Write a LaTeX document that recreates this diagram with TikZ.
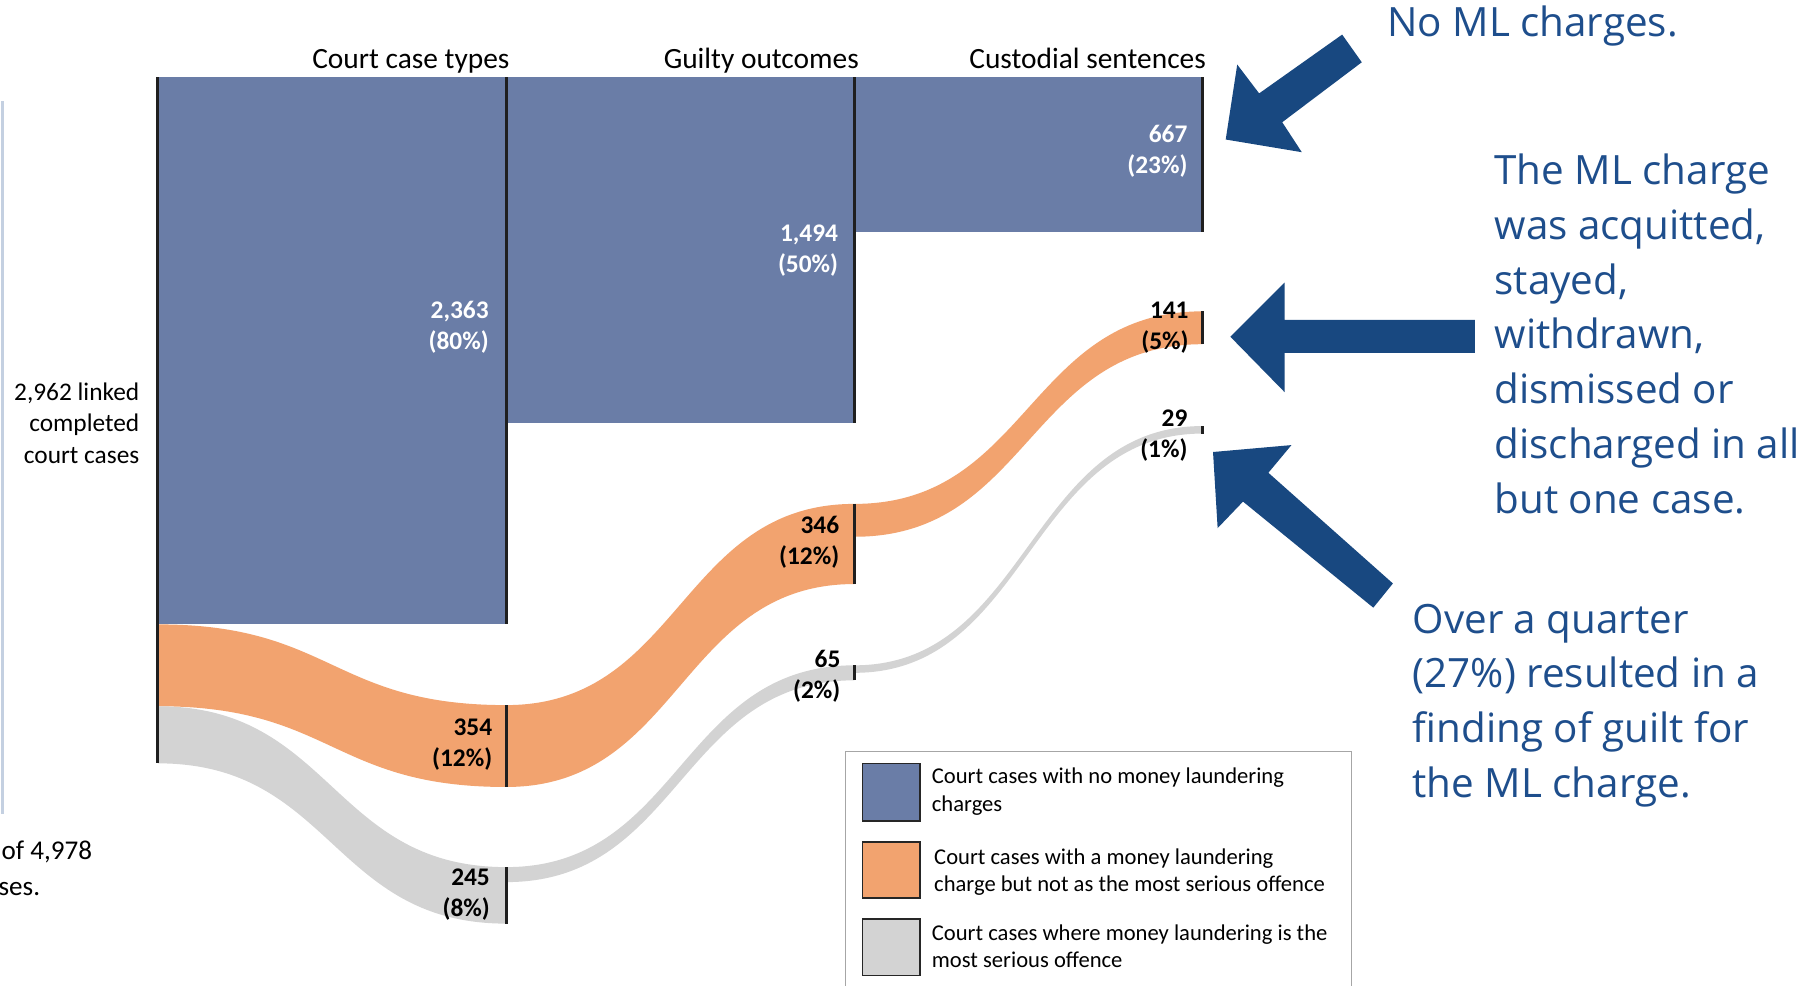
\documentclass[tikz,border=0pt]{standalone}
\usepackage{fontspec}
\setmainfont{Carlito}
\newfontfamily\annfont{Open Sans}
\definecolor{mlblue}{RGB}{106,125,167}
\definecolor{mlorange}{RGB}{242,163,111}
\definecolor{mlgray}{RGB}{211,211,211}
\definecolor{arrowblue}{RGB}{24,72,128}
\definecolor{annblue}{RGB}{30,78,140}
\definecolor{edgeblue}{RGB}{196,208,225}
\newcommand{\sflow}[8]{% x1 t1 b1 x2 t2 b2 xm colour
  \fill[#8] (#1,#2) .. controls (#7,#2) and (#7,#5) .. (#4,#5) -- (#4,#6)
    .. controls (#7,#6) and (#7,#3) .. (#1,#3) -- cycle;}
\begin{document}
\begin{tikzpicture}[x=1pt,y=-1pt,
  colline/.style={line width=2.6pt, draw=black!88},
  hdr/.style={font=\fontsize{25.5}{30}\selectfont, anchor=base east, inner sep=0},
  vlab/.style={font=\fontsize{22}{27}\selectfont\bfseries, align=right, anchor=east, inner sep=0},
  wlab/.style={vlab, text=white},
  sidetxt/.style={font=\fontsize{22}{27.5}\selectfont, inner sep=0},
  cuttxt/.style={font=\fontsize{23.5}{29}\selectfont, inner sep=0, anchor=base east},
  ann/.style={font=\annfont\fontsize{35}{47.5}\selectfont, text=annblue, anchor=base west, inner sep=0},
  leg/.style={font=\fontsize{19.6}{23.5}\selectfont, align=left, anchor=west, inner sep=0},
  swatch/.style={line width=1.4pt, draw=black!85},
  bigarrow/.style={fill=arrowblue}]
\useasboundingbox (0,0) rectangle (1568,855);
\fill[white] (0,0) rectangle (1568,855);

% faint left edge line
\draw[edgeblue, line width=2.4pt] (2,88) -- (2,706);

% blue blocks
\fill[mlblue] (137,67) rectangle (439,541.5);
\fill[mlblue] (439,67) rectangle (741,367);
\fill[mlblue] (741,67) rectangle (1043,201);

% orange flows
\sflow{137}{541.5}{612.5}{439}{611.5}{682.5}{288}{mlorange}
\sflow{439}{611.5}{682.5}{741}{437}{506.5}{590}{mlorange}
\sflow{741}{437}{465.5}{1043}{270}{298.5}{892}{mlorange}
% gray flows
\sflow{137}{612.5}{662}{439}{752}{801}{288}{mlgray}
\sflow{439}{752}{765}{741}{577}{590}{590}{mlgray}
\sflow{741}{577}{583.5}{1043}{369.5}{376}{892}{mlgray}

% column lines
\draw[colline] (137,67) -- (137,662);
\draw[colline] (439,67) -- (439,541.5);
\draw[colline] (439,611.5) -- (439,682.5);
\draw[colline] (439,752) -- (439,801);
\draw[colline] (741,67) -- (741,367);
\draw[colline] (741,437) -- (741,506.5);
\draw[colline] (741,577) -- (741,590);
\draw[colline] (1043,67) -- (1043,201);
\draw[colline] (1043,270) -- (1043,298.5);
\draw[colline] (1043,369.5) -- (1043,376);

% headers
\node[hdr] (h1) at (442,59) {Court case types};
\node[hdr] (h2) at (745,59) {Guilty outcomes};
\node[hdr] (h3) at (1046,59) {Custodial sentences};

% value labels
\node[wlab] (l2363) at (424,284) {2,363\\(80\%)};
\node[wlab] (l1494) at (727,217) {1,494\\(50\%)};
\node[wlab] (l667) at (1030,131) {667\\(23\%)};
\node[vlab] (l354) at (427,645.5) {354\\(12\%)};
\node[vlab] (l245) at (425,775.5) {245\\(8\%)};
\node[vlab] (l346) at (728,470.5) {346\\(12\%)};
\node[vlab] (l65) at (729,586.5) {65\\(2\%)};
\node[vlab] (l141) at (1031,284) {141\\(5\%)};
\node[vlab] (l29) at (1030,378) {29\\(1\%)};

% side texts
\node[sidetxt, align=right, anchor=east] (total) at (121,367) {2,962 linked\\completed\\court cases};
\node[cuttxt] (of1) at (80,745) {of 4,978};
\node[cuttxt] (of2) at (35,777) {ses.};

% legend
\draw[draw=black!35, line width=1pt] (733,652) rectangle (1172,880);
\filldraw[swatch, fill=mlblue] (748,662) rectangle (798,712);
\filldraw[swatch, fill=mlorange] (748,730) rectangle (798,779);
\filldraw[swatch, fill=mlgray] (748,797) rectangle (798,846);
\node[leg] (lg1) at (808,686.5) {Court cases with no money laundering\\charges};
\node[leg] (lg2) at (810,756) {Court cases with a money laundering\\charge but not as the most serious offence};
\node[leg] (lg3) at (808,820.5) {Court cases where money laundering is the\\most serious offence};

% arrows
\fill[bigarrow] (1063,121) -- (1073,56) -- (1092,81) -- (1164,30) -- (1181,54) -- (1112,106) -- (1129,132) -- cycle;
\fill[bigarrow] (1067,292) -- (1114,245) -- (1114,277.5) -- (1279,277.5) -- (1279,306) -- (1114,306) -- (1114,340) -- cycle;
\fill[bigarrow] (1052,392) -- (1120,386) -- (1100,410) -- (1208,506) -- (1191,527) -- (1078,435) -- (1056,458) -- cycle;

% annotations
\node[ann] (a1) at (1203,32) {No ML charges.};
\node[ann] (b1) at (1296,160) {The ML charge};
\node[ann] (b2) at (1296,207.5) {was acquitted,};
\node[ann] (b3) at (1296,255) {stayed,};
\node[ann] (b4) at (1296,302.5) {withdrawn,};
\node[ann] (b5) at (1296,350) {dismissed or};
\node[ann] (b6) at (1296,397.5) {discharged in all};
\node[ann] (b7) at (1296,445) {but one case.};
\node[ann] (c1) at (1225,549) {Over a quarter};
\node[ann] (c2) at (1225,596.5) {(27\%) resulted in a};
\node[ann] (c3) at (1225,644) {finding of guilt for};
\node[ann] (c4) at (1225,691.5) {the ML charge.};
\end{tikzpicture}
\end{document}
